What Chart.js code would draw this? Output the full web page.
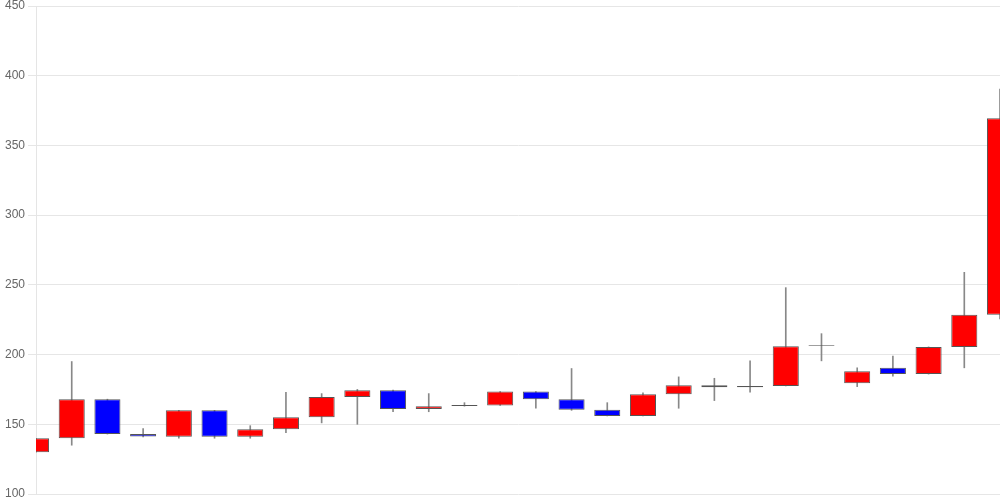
<!DOCTYPE html>
<html>
<head>
<meta charset="utf-8">
<script src="https://cdn.jsdelivr.net/npm/chart.js@4"></script>
<style>
body{margin:0;background:#fff;}
#chart{display:block;}
</style>
</head>
<body>
<canvas id="chart" width="1000" height="500"></canvas>
<script>
// one candle per day
const days=[];
for(let i=1;i<=28;i++) days.push(""+i);

const open =[130,140,168,143,141,160,141,146.5,155,169.5,174.5,161,163.2,163.5,173.5,168,160.5,156,171.5,178,176.5,177.5,206.2,179.5,190.5,186,205.5,228.5];
const high =[140,195,168,147,160,160,149,173,172,175,174.5,172,165.5,173.5,173.5,190,165.5,172.5,184,183,195.5,248,215,190.5,199,205.5,259,390.5];
const low  =[130,135,143,141,140,140,140,144,151,150,159,159,163,163.5,161.5,160,156,156,161.5,167,173,177.5,195.5,177,184.5,186,190.5,225.5];
const close=[140,168,143,141.3,160,141,146.5,155,169.5,174.5,161,163,163.8,173.5,168,160.5,156,171.5,178,176.5,177.5,206,206.7,188,186,205.5,228.5,369.5];

const upColor="#ff0000";
const downColor="#0000ff";

const bodies=open.map((o,i)=>[Math.min(o,close[i]),Math.max(o,close[i])]);
const wicks=high.map((h,i)=>[low[i],h]);
const bodyColors=open.map((o,i)=>close[i]>=o?upColor:downColor);

new Chart(document.getElementById("chart"),{
type:"bar",
data:{
labels:days,
datasets:[{
data:bodies,
backgroundColor:bodyColors,
borderColor:"#555",
borderWidth:1,
borderSkipped:false,
grouped:false,
barPercentage:0.73,
categoryPercentage:1
},{
data:wicks,
backgroundColor:"#888",
borderWidth:0,
grouped:false,
barThickness:1
}]
},
options:{
responsive:false,
animation:false,
layout:{padding:{left:2}},
plugins:{legend:{display:false},tooltip:{enabled:false}},
scales:{
x:{display:false,offset:false},
y:{
min:100,max:450,
ticks:{stepSize:50,color:"#666",font:{size:12,lineHeight:0.5}},
grid:{color:"#e6e6e6"}
}
}
}
});
</script>
</body>
</html>
